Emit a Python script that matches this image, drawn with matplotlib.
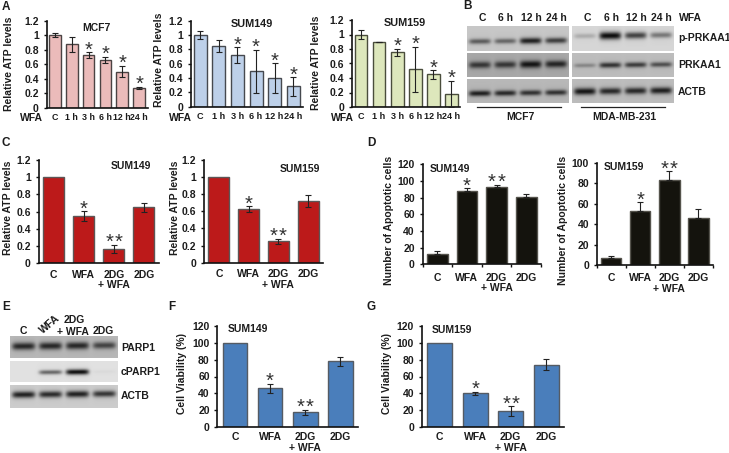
import numpy as np
import matplotlib
matplotlib.use("Agg")
import matplotlib.pyplot as plt

plt.rcParams['font.family'] = ['Liberation Sans', 'DejaVu Sans']
W, H = 729, 453
TXT = "#1c1c1c"

time_labels = ['C', '1 h', '3 h', '6 h', '12 h', '24 h']
treat_labels = ['C', 'WFA', '2DG\n+ WFA', '2DG']

mcf7_atp = [1.0, 0.875, 0.73, 0.665, 0.5, 0.275]
mcf7_atp_err = [0.025, 0.1, 0.04, 0.04, 0.08, 0.02]
mcf7_stars = [0, 0, 1, 1, 1, 1]
sum149_atp = [1.0, 0.845, 0.72, 0.495, 0.395, 0.285]
sum149_atp_err = [0.06, 0.08, 0.11, 0.30, 0.21, 0.13]
sum149_stars = [0, 0, 1, 1, 1, 1]
sum159_atp = [1.0, 0.895, 0.755, 0.52, 0.45, 0.18]
sum159_atp_err = [0.065, 0.005, 0.05, 0.31, 0.06, 0.185]
sum159_stars = [0, 0, 1, 1, 1, 1]

treat_stars = [0, 1, 2, 0]
c149_atp = [1.0, 0.55, 0.17, 0.65]
c149_err = [0, 0.055, 0.045, 0.05]
c159_atp = [1.0, 0.625, 0.25, 0.72]
c159_err = [0, 0.035, 0.03, 0.07]

d149_apop = [12, 88, 93, 81]
d149_err = [3.5, 3, 2.5, 3]
d159_apop = [7, 53, 83, 46]
d159_err = [2, 8.5, 9, 9]

f149_via = [100, 46, 18, 78]
f149_err = [0, 5.5, 3, 5.5]
g159_via = [100, 40, 19, 74]
g159_err = [0, 2, 6, 6.5]

# blot band strength per lane (0 none, 1 black), background grey
blot_p_mcf7 = [0.55, 0.5, 0.85, 0.7]
blot_t_mcf7 = [0.7, 0.7, 0.9, 0.8]
blot_a_mcf7 = [0.85, 0.8, 0.75, 0.75]
blot_p_mda = [0.2, 0.95, 0.7, 0.45]
blot_t_mda = [0.3, 0.75, 0.7, 0.6]
blot_a_mda = [0.9, 0.8, 0.8, 0.85]
blot_parp = [0.8, 0.8, 0.8, 0.65]
blot_cparp = [0.0, 0.55, 0.95, 0.03]
blot_actb = [0.85, 0.8, 0.85, 0.75]

fig = plt.figure(figsize=(W / 100, H / 100), dpi=100, facecolor='white')


def px_axes(x0, y_top, x1, y_bot):
    return fig.add_axes([x0 / W, 1 - y_bot / H, (x1 - x0) / W, (y_bot - y_top) / H])


def label(x, y, s, size=7.5, bold=True, ha='center', rot=0):
    fig.text(x / W, 1 - y / H, s, fontsize=size, ha=ha, va='center', rotation=rot,
             fontweight='bold' if bold else 'normal', color=TXT)


def bar_panel(rect, vals, errs, stars, names, color, edge, ymax, step, bw=0.7,
              fmt=None, up_only=False, boundary_ticks=False, pad=3.5, fs=7.5, xfs=7.5):
    ax = px_axes(*rect)
    x = np.arange(len(vals))
    ax.bar(x, vals, width=bw, color=color, edgecolor=edge, linewidth=1.0, zorder=2)
    lower = np.zeros(len(errs)) if up_only else errs
    shown = np.array(errs) > 0
    ax.errorbar(x[shown], np.array(vals)[shown],
                yerr=[np.array(lower)[shown], np.array(errs)[shown]],
                fmt='none', ecolor='#222222', elinewidth=0.8, capsize=2.2, capthick=0.8, zorder=3)
    for i, n in enumerate(stars):
        for k in range(n):
            dx = (k - (n - 1) / 2) * 9
            ax.annotate('*', (i, vals[i] + errs[i]), xytext=(dx, 2),
                        textcoords='offset pixels', ha='center', va='center',
                        fontsize=14.5, color='#333333', annotation_clip=False)
    ax.set_xlim(-0.5, len(vals) - 0.5)
    ax.set_ylim(0, ymax)
    ticks = np.arange(0, ymax + step / 2, step)
    ax.set_yticks(ticks)
    ax.set_yticklabels([fmt(t) for t in ticks] if fmt else [f'{t:g}' for t in ticks],
                       fontsize=fs, fontweight='bold', color=TXT)
    ax.set_xticks(x)
    ax.set_xticklabels(names, fontsize=xfs, fontweight='bold', color=TXT, linespacing=1.1)
    ax.tick_params(axis='x', length=0, pad=pad)
    ax.tick_params(axis='y', length=2.5, width=1.0, pad=3, color='#111111')
    if boundary_ticks:
        ax.set_xticks(np.arange(-0.5, len(vals)), minor=True)
        ax.tick_params(axis='x', which='minor', length=2, width=1.0, color='#111111')
    for side in ('top', 'right'):
        ax.spines[side].set_visible(False)
    for side in ('left', 'bottom'):
        ax.spines[side].set_linewidth(1.2)
        ax.spines[side].set_color('#111111')
    ax.patch.set_alpha(0)
    return ax


def blot(rect, strengths, bg, yc, sigma):
    x0, y0, x1, y1 = rect
    w, h = int(x1 - x0), int(y1 - y0)
    ax = px_axes(*rect)
    xx, yy = np.meshgrid(np.linspace(0, 1, w * 2), np.linspace(0, 1, h * 2))
    img = np.full(xx.shape, bg, dtype=float)
    n = len(strengths)
    for i, s in enumerate(strengths):
        cx = (i + 0.5) / n
        across = np.exp(-((xx - cx) / (0.43 / n)) ** 6)
        down = np.exp(-((yy - yc + 0.05 * (xx - 0.5)) / (sigma * (0.6 + 0.5 * s))) ** 2)
        img -= (bg - 0.06) * s * across * down
        img -= 0.05 * s * across * np.exp(-((yy - yc) / (sigma * 2.2)) ** 2)
    ax.imshow(np.clip(img, 0, 1), cmap='gray', vmin=0, vmax=1, aspect='auto',
              interpolation='bilinear')
    ax.axis('off')


# panel A
RED_L, BLUE_L, GREEN_L = '#EBBBBA', '#BDD0E9', '#DDE7BC'
one = lambda t: f'{t:.1f}'.rstrip('0').rstrip('.') if t else '0'
bar_panel((46.5, 20.7, 147.5, 108), mcf7_atp, mcf7_atp_err, mcf7_stars, time_labels,
          RED_L, '#4b4343', 1.2, 0.2, fmt=one, xfs=6.4)
bar_panel((191, 20.7, 302.5, 106.7), sum149_atp, sum149_atp_err, sum149_stars, time_labels,
          BLUE_L, '#46494f', 1.2, 0.2, fmt=one, xfs=6.6)
bar_panel((352, 20, 460.5, 107), sum159_atp, sum159_atp_err, sum159_stars, time_labels,
          GREEN_L, '#4a4d3c', 1.2, 0.2, fmt=one, xfs=6.5)
label(31, 118, 'WFA'); label(180, 118, 'WFA'); label(342, 118, 'WFA')
label(96, 28, 'MCF7'); label(252, 24, 'SUM149', 7.8); label(405, 23, 'SUM159', 7.8)
label(9, 64, 'Relative ATP levels', rot=90)
label(159, 60, 'Relative ATP levels', rot=90)
label(316, 63, 'Relative ATP levels', rot=90)

# panel B
blot((467, 25.7, 569, 50.7), blot_p_mcf7, 0.78, 0.6, 0.12)
blot((467, 52.7, 569, 77.3), blot_t_mcf7, 0.66, 0.5, 0.14)
blot((467, 79.3, 569, 103.3), blot_a_mcf7, 0.72, 0.6, 0.11)
blot((572, 25.7, 674, 50.7), blot_p_mda, 0.84, 0.38, 0.14)
blot((572, 52.7, 674, 77.3), blot_t_mda, 0.74, 0.52, 0.11)
blot((572, 79.3, 674, 103.3), blot_a_mda, 0.74, 0.52, 0.13)
for x, s in zip([482.7, 505, 531, 556, 587, 612, 636, 661.7], ['C', '6 h', '12 h', '24 h'] * 2):
    label(x, 18, s)
label(690, 18, 'WFA', ha='center')
label(678, 38, 'p-PRKAA1', ha='left'); label(678, 65, 'PRKAA1', ha='left'); label(678, 92, 'ACTB', ha='left')
fig.add_artist(plt.Line2D([476.7 / W, 561 / W], [1 - 107 / H] * 2, color='#222222', lw=0.9))
fig.add_artist(plt.Line2D([580.7 / W, 665 / W], [1 - 107 / H] * 2, color='#222222', lw=0.9))
label(520, 117, 'MCF7'); label(624, 117, 'MDA-MB-231')

# panel C
bar_panel((38.5, 160, 159, 263.3), c149_atp, c149_err, treat_stars, treat_labels,
          '#BC1A1A', '#5c5656', 1.2, 0.2, fmt=one, pad=4.5)
bar_panel((204, 160, 323, 262.7), c159_atp, c159_err, treat_stars, treat_labels,
          '#BC1A1A', '#5c5656', 1.2, 0.2, fmt=one, pad=4.5)
label(131, 166, 'SUM149'); label(300, 169, 'SUM159')
label(8, 208, 'Relative ATP levels', rot=90); label(175, 208, 'Relative ATP levels', rot=90)

# panel D
bar_panel((422.5, 164.3, 541, 264.3), d149_apop, d149_err, treat_stars, treat_labels,
          '#14130D', '#55534c', 120, 20, up_only=True, boundary_ticks=True, pad=6)
bar_panel((596.7, 162.7, 713, 265), d159_apop, d159_err, treat_stars, treat_labels,
          '#14130D', '#55534c', 100, 20, up_only=True, boundary_ticks=True, pad=6)
label(450, 169, 'SUM149'); label(624, 167, 'SUM159')
label(389, 220, 'Number of Apoptotic cells', rot=90); label(563, 220, 'Number of Apoptotic cells', rot=90)

# panel E
blot((10, 336, 118, 358), blot_parp, 0.72, 0.47, 0.16)
blot((10, 361, 118, 382), blot_cparp, 0.88, 0.53, 0.12)
blot((10, 385, 118, 408), blot_actb, 0.8, 0.4, 0.14)
label(23, 331, 'C'); label(50, 324, 'WFA', rot=40)
label(74, 320, '2DG'); label(73, 332, '+ WFA'); label(103, 331, '2DG')
label(121, 348, 'PARP1', ha='left'); label(121, 372, 'cPARP1', ha='left'); label(121, 396, 'ACTB', ha='left')

# panels F, G
bar_panel((217.3, 325.7, 358, 427.3), f149_via, f149_err, treat_stars, treat_labels,
          '#4A7EBB', '#555b63', 120, 20, pad=3.5)
bar_panel((421.7, 325.7, 564, 427.3), g159_via, g159_err, treat_stars, treat_labels,
          '#4A7EBB', '#555b63', 120, 20, pad=3.5)
label(248, 329, 'SUM149'); label(452, 330, 'SUM159')
label(182, 374, 'Cell Viability (%)', rot=90); label(387, 374, 'Cell Viability (%)', rot=90)

for x, y, s in [(2, 7, 'A'), (463, 6, 'B'), (1, 143, 'C'), (367, 143, 'D'),
                (2, 307, 'E'), (168, 307, 'F'), (366, 307, 'G')]:
    label(x, y, s, 8.5, ha='left')

fig.savefig('out.png', dpi=100)
